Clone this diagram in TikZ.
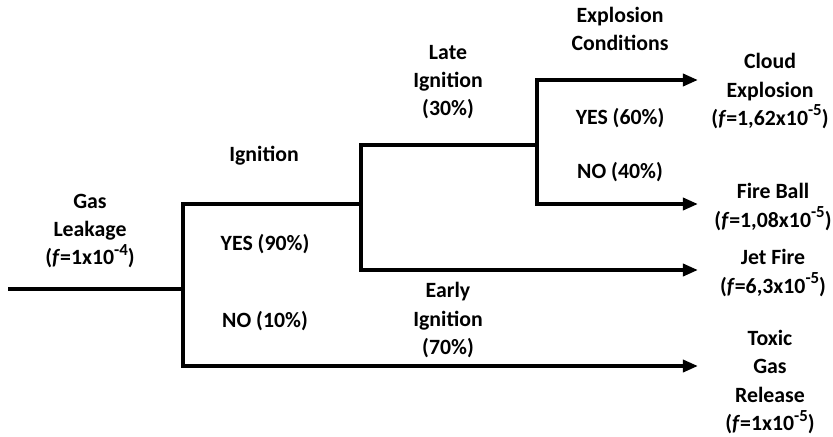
\documentclass[tikz,border=0pt]{standalone}
\usepackage{fontspec}
\setmainfont{Carlito}
\usetikzlibrary{arrows.meta}

% raised exponent of the frequencies
\newcommand{\expo}[1]{\raisebox{0.42em}{\fontsize{12}{12}\selectfont #1}}

\tikzset{
  lbl/.style={align=center, inner sep=0pt},
  branch/.style={line width=3.1pt, line join=miter}
}

\begin{document}
\begin{tikzpicture}[font=\fontsize{15.5}{20}\selectfont\bfseries, >={Triangle[length=0.38cm,width=0.3cm]}]
\useasboundingbox (0,0) rectangle (20.825,-10.9);

% junctions of the tree
\coordinate (start) at (0.2,-7.225);
\coordinate (ign) at (4.575,-7.225);
\coordinate (late) at (9.025,-5.1);
\coordinate (expl) at (13.425,-3.625);
% arrow ends
\coordinate (cloud) at (17.45,-2.0);
\coordinate (ball) at (17.45,-5.1);
\coordinate (jet) at (17.45,-6.75);
\coordinate (toxic) at (17.45,-9.15);

\draw[branch] (start) -- (ign);
\draw[branch,->] (late) -| (ign) |- (toxic);
\draw[branch,->] (expl) -| (late) |- (jet);
\draw[branch,<->] (cloud) -| (expl) |- (ball);

% event labels
\node[lbl] (gas) at (2.25,-5.775) {Gas\\Leakage\\(\textit{f}=1x10\expo{-4})};
\node[lbl] (ignt) at (6.6,-3.9) {Ignition};
\node[lbl] (yes90) at (6.625,-6.1) {YES (90\%)};
\node[lbl] (no10) at (6.625,-8.025) {NO (10\%)};
\node[lbl] (latet) at (11.2,-2.05) {Late\\Ignition\\(30\%)};
\node[lbl] (early) at (11.2,-8.0) {Early\\Ignition\\(70\%)};
\node[lbl] (cond) at (15.5,-0.725) {Explosion\\Conditions};
\node[lbl] (yes60) at (15.5,-2.95) {YES (60\%)};
\node[lbl] (no40) at (15.5,-4.3) {NO (40\%)};

% outcomes
\node[lbl] (cloudt) at (19.25,-2.275) {Cloud\\Explosion\\(\textit{f}=1,62x10\expo{-5})};
\node[lbl] (ballt) at (19.325,-5.175) {Fire Ball\\(\textit{f}=1,08x10\expo{-5})};
\node[lbl] (jett) at (19.325,-6.825) {Jet Fire\\(\textit{f}=6,3x10\expo{-5})};
\node[lbl] (toxict) at (19.25,-9.55) {Toxic\\Gas\\Release\\(\textit{f}=1x10\expo{-5})};
\end{tikzpicture}
\end{document}
